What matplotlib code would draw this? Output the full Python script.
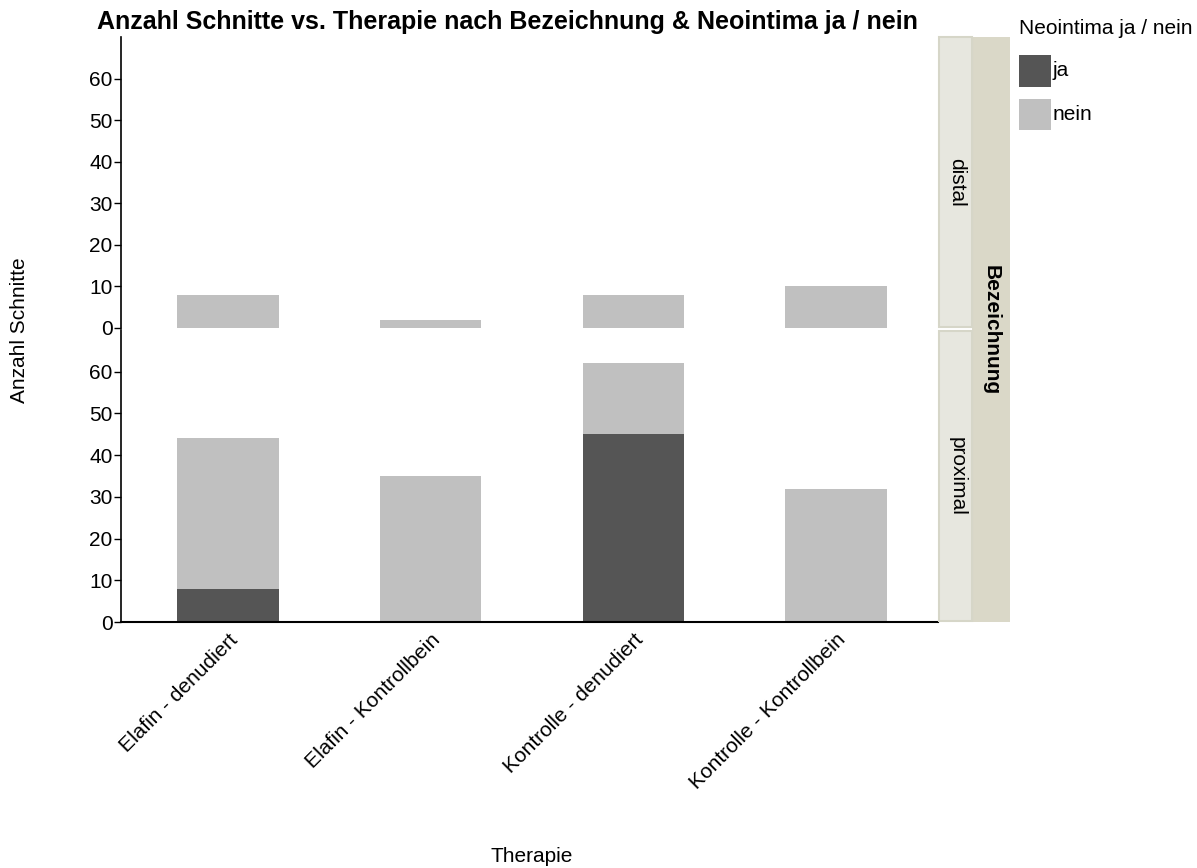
import matplotlib
matplotlib.use("Agg")
import matplotlib.pyplot as plt
from matplotlib.patches import Rectangle

plt.rcParams['font.family'] = ['Liberation Sans', 'DejaVu Sans']

categories = ["Elafin - denudiert", "Elafin - Kontrollbein", "Kontrolle - denudiert", "Kontrolle - Kontrollbein"]
panels = ["distal", "proximal"]
distal_ja = [0, 0, 0, 0]
distal_nein = [8, 2, 8, 10]
proximal_ja = [8, 0, 45, 0]
proximal_nein = [36, 35, 17, 32]
yticks = [0, 10, 20, 30, 40, 50, 60]

c_ja = "#555555"
c_nein = "#C0C0C0"
FS = 15

W, H = 1197, 868
fig = plt.figure(figsize=(W/100, H/100), dpi=100)

def fx(x): return x / W
def fy(y): return 1 - y / H

left, right = 121, 938
ax_top = fig.add_axes([fx(left), fy(328), fx(right) - fx(left), fy(37) - fy(328)])
ax_bot = fig.add_axes([fx(left), fy(622), fx(right) - fx(left), fy(330) - fy(622)])

x = list(range(len(categories)))
for ax, ja, nein in [(ax_top, distal_ja, distal_nein), (ax_bot, proximal_ja, proximal_nein)]:
    ax.bar(x, ja, width=0.5, color=c_ja, edgecolor='none')
    ax.bar(x, nein, bottom=ja, width=0.5, color=c_nein, edgecolor='none')
    ax.set_xlim(-0.528, 3.503)
    ax.set_ylim(0, 70)
    ax.set_yticks(yticks)
    ax.tick_params(axis='y', labelsize=FS, length=5, width=1, direction='out', pad=1)
    for s in ['top', 'right']:
        ax.spines[s].set_visible(False)
    ax.spines['left'].set_linewidth(1.2)

ax_top.spines['bottom'].set_visible(False)
ax_top.set_xticks([])
ax_bot.spines['bottom'].set_linewidth(1.5)
ax_bot.set_xticks(x)
ax_bot.set_xticklabels(categories, rotation=45, ha='right', rotation_mode='anchor', fontsize=FS)
ax_bot.tick_params(axis='x', length=0, pad=6)

# strips
inner_c = "#E7E7DF"
inner_e = "#D6D6C8"
outer_c = "#DAD8C8"
fig.patches.append(Rectangle((fx(972), fy(622)), fx(1010) - fx(972), fy(37) - fy(622),
                             transform=fig.transFigure, facecolor=outer_c, edgecolor='none'))
for (t, b), lab in zip([(37, 327), (331, 621)], panels):
    fig.patches.append(Rectangle((fx(939), fy(b)), fx(972) - fx(939), fy(t) - fy(b),
                                 transform=fig.transFigure, facecolor=inner_c, edgecolor=inner_e, linewidth=1.5))
    fig.text(fx(957), fy((t + b) / 2), lab, rotation=-90, ha='center', va='center', fontsize=FS)
fig.text(fx(991), fy(330), "Bezeichnung", rotation=-90, ha='center', va='center', fontsize=FS, fontweight='bold')

# titles / labels
fig.text(fx(507), fy(22), "Anzahl Schnitte vs. Therapie nach Bezeichnung & Neointima ja / nein",
         ha='center', va='center', fontsize=18, fontweight='bold')
fig.text(fx(20), fy(330), "Anzahl Schnitte", rotation=90, ha='center', va='center', fontsize=FS)
fig.text(fx(532), fy(857), "Therapie", ha='center', va='center', fontsize=FS)

# legend
fig.text(fx(1019), fy(28), "Neointima ja / nein", ha='left', va='center', fontsize=FS)
for (t, b), lab, c in [((55, 87), "ja", c_ja), ((99, 130), "nein", c_nein)]:
    fig.patches.append(Rectangle((fx(1019), fy(b)), fx(1051) - fx(1019), fy(t) - fy(b),
                                 transform=fig.transFigure, facecolor=c, edgecolor='none'))
    fig.text(fx(1053), fy((t + b) / 2), lab, ha='left', va='center', fontsize=FS)

fig.savefig("out.png", dpi=100)
